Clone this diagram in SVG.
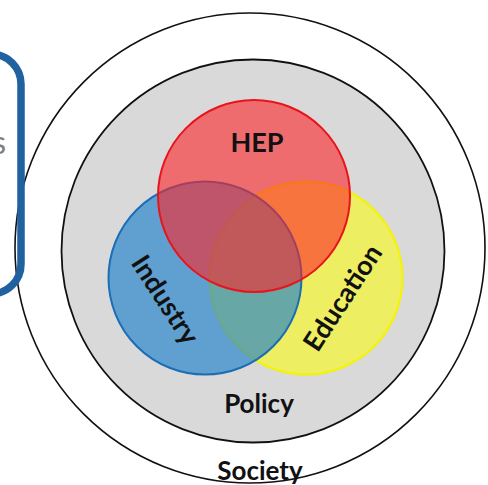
<svg xmlns="http://www.w3.org/2000/svg" width="488" height="485" viewBox="0 0 488 485">
  <style>
    .lbl { font-family: Lato, "Liberation Sans", sans-serif; font-weight: bold; fill: #111; text-anchor: middle; }
  </style>
  <rect x="0" y="0" width="488" height="485" fill="#ffffff"/>
  <g id="society">
    <circle cx="250" cy="248" r="235" fill="#ffffff" stroke="#111" stroke-width="1.6"/>
    <text class="lbl" x="260" y="480" font-size="26">Society</text>
  </g>
  <g id="policy">
    <circle cx="253" cy="251" r="191.5" fill="#d9d9d9" stroke="#111" stroke-width="1.8"/>
    <text class="lbl" x="259" y="413" font-size="26">Policy</text>
  </g>
  <g id="education">
    <circle cx="306" cy="278" r="96.5" fill="#ffff00" fill-opacity="0.55" stroke="#f4f400" stroke-width="2"/>
  </g>
  <g id="industry">
    <circle cx="205" cy="278" r="96.5" fill="#1e81cb" fill-opacity="0.65" stroke="#1b6db5" stroke-width="2"/>
  </g>
  <g id="hep">
    <circle cx="254" cy="196" r="96" fill="#fd2326" fill-opacity="0.6" stroke="#e8141c" stroke-width="2"/>
    <text class="lbl" x="257" y="152" font-size="27">HEP</text>
  </g>
  <g id="labels">
    <text class="lbl" font-size="27" transform="translate(165,300) rotate(57)" y="9">Industry</text>
    <text class="lbl" font-size="27" transform="translate(343,298) rotate(-57)" y="9">Education</text>
  </g>
  <g id="side-box">
    <rect x="-100" y="54" width="121" height="240" rx="30" ry="30" fill="none" stroke="#2062a0" stroke-width="7.5"/>
    <text x="6" y="154" font-family="Lato, 'Liberation Sans', sans-serif" font-size="32" fill="#7f7f7f" text-anchor="end">s</text>
  </g>
  <g id="connectors"></g>
</svg>
